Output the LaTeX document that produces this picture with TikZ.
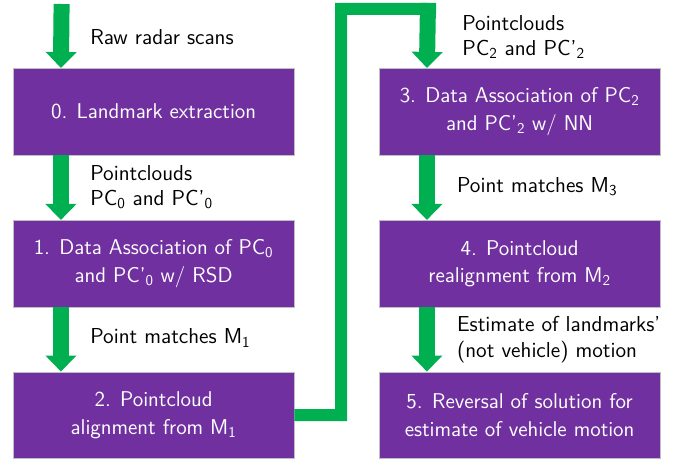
\documentclass[tikz,border=0pt]{standalone}
\usetikzlibrary{arrows.meta}
\definecolor{boxpurple}{HTML}{7030A0}
\definecolor{flowgreen}{HTML}{00B050}
\tikzset{block/.style = {shape=rectangle,draw=black!25,fill=boxpurple,text=white,minimum width=7.02cm,minimum height=2.17cm,align=center,inner sep=0pt,font=\sffamily\fontsize{15.2}{19.4}\selectfont}}
\tikzset{flow/.style = {draw=flowgreen,line width=0.4cm,-{Triangle[width=0.78cm,length=0.4cm,line width=0pt]}}}
\tikzset{link/.style = {draw=flowgreen,line width=0.3cm}}
\tikzset{note/.style = {anchor=west,align=left,inner sep=0pt}}

\begin{document}
\begin{tikzpicture}[font=\sffamily\fontsize{15.4}{17.8}\selectfont]
          \useasboundingbox (0,0) rectangle (17.025,11.55);
          \node[block] (n0) at (3.84, 8.76) {0. Landmark extraction};
          \node[block] (n1) at (3.84, 4.96) {1. Data Association of PC\textsubscript{0}\\and PC'\textsubscript{0} w/ RSD};
          \node[block] (n2) at (3.84, 1.17) {2. Pointcloud\\alignment from M\textsubscript{1}};
          \node[block] (n3) at (12.99, 8.76) {3. Data Association of PC\textsubscript{2}\\and PC'\textsubscript{2} w/ NN};
          \node[block] (n4) at (12.99, 4.96) {4. Pointcloud\\realignment from M\textsubscript{2}};
          \node[block] (n5) at (12.99, 1.17) {5. Reversal of solution for\\estimate of vehicle motion};

          \coordinate (in) at (1.54, 11.45);
          \coordinate (bend) at (8.525, 11.325);
          \coordinate (top) at (10.7, 11.475);

          \draw[flow] (in) to ([xshift=1.2cm]n0.north west);
          \draw[flow] ([xshift=1.2cm]n0.south west) to ([xshift=1.2cm]n1.north west);
          \draw[flow] ([xshift=1.2cm]n1.south west) to ([xshift=1.2cm]n2.north west);
          \draw[link] (n2.east) -| (bend) -- ([xshift=0.2cm,yshift=-0.15cm]top);
          \draw[flow] (top) to ([xshift=1.2cm]n3.north west);
          \draw[flow] ([xshift=1.2cm]n3.south west) to ([xshift=1.2cm]n4.north west);
          \draw[flow] ([xshift=1.2cm]n4.south west) to ([xshift=1.2cm]n5.north west);

          \node[note] (l0) at (2.25, 10.625) {Raw radar scans};
          \node[note] (l1) at (2.25, 6.875) {Pointclouds\\PC\textsubscript{0} and PC'\textsubscript{0}};
          \node[note] (l2) at (2.25, 3.1) {Point matches M\textsubscript{1}};
          \node[note] (l3) at (11.55, 10.625) {Pointclouds\\PC\textsubscript{2} and PC'\textsubscript{2}};
          \node[note] (l4) at (11.42, 6.875) {Point matches M\textsubscript{3}};
          \node[note] (l5) at (11.42, 3.06) {Estimate of landmarks'\\(not vehicle) motion};
        \end{tikzpicture}
\end{document}
